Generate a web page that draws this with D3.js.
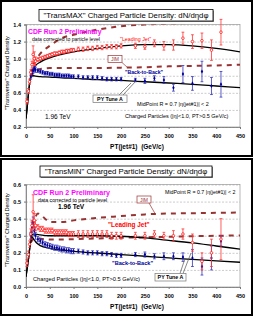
<!DOCTYPE html>
<html>
<head>
<meta charset="utf-8">
<script src="https://cdn.jsdelivr.net/npm/d3@7"></script>
<style>
  body { margin: 0; background: #fff; }
  svg { display: block; font-family: Arial, "Liberation Sans", sans-serif; }
</style>
</head>
<body>
<script>
// pT(jet#1) bins (GeV/c)
const ptBins = [2, 5, 7.5, 10, 12.5, 15, 17.5, 20, 25, 30, 35, 40, 45, 50, 55, 60, 65, 70, 75, 80, 85, 90, 95, 100,
  110, 120, 130, 140, 150, 160, 170, 180, 190, 200, 230, 250, 270, 290, 310, 330, 350, 370, 390, 410];

// "TransMAX" data
const maxLeadY = [0.50, 0.62, 0.73, 0.84, 0.93, 1.05, 1.00, 0.97, 0.99, 1.00, 1.01, 1.02, 1.03, 1.04, 1.05, 1.06, 1.06, 1.07, 1.08, 1.08, 1.09, 1.09, 1.10, 1.10,
  1.11, 1.11, 1.12, 1.12, 1.13, 1.13, 1.14, 1.14, 1.14, 1.15, 1.15, 1.14, 1.18, 1.15, 1.16, 1.24, 1.20, 1.21, 1.10, 1.31];
const maxLeadErr = [0.03, 0.03, 0.03, 0.03, 0.04, 0.10, 0.08, 0.05, 0.02, 0.02, 0.02, 0.02, 0.02, 0.02, 0.02, 0.02, 0.02, 0.02, 0.02, 0.02, 0.02, 0.02, 0.02, 0.02,
  0.025, 0.025, 0.025, 0.025, 0.025, 0.025, 0.025, 0.025, 0.025, 0.025, 0.03, 0.03, 0.04, 0.05, 0.06, 0.07, 0.08, 0.09, 0.12, 0.15];
const maxBackY = [null, null, null, 0.80, 0.83, 0.86, 0.88, 0.87, 0.86, 0.85, 0.84, 0.83, 0.83, 0.82, 0.82, 0.81, 0.81, 0.81, 0.80, 0.80, 0.80, 0.80, 0.79, 0.79,
  0.79, 0.78, 0.78, 0.78, 0.78, 0.77, 0.76, 0.76, 0.76, 0.76, 0.75, 0.74, 0.77, 0.75, 0.66, 0.82, 0.71, 0.85, 0.68, 0.70];
const maxBackErr = [null, null, null, 0.04, 0.04, 0.03, 0.03, 0.03, 0.02, 0.02, 0.02, 0.02, 0.02, 0.02, 0.02, 0.02, 0.02, 0.02, 0.02, 0.02, 0.02, 0.02, 0.02, 0.02,
  0.02, 0.02, 0.02, 0.02, 0.02, 0.02, 0.02, 0.02, 0.02, 0.02, 0.02, 0.03, 0.03, 0.04, 0.04, 0.10, 0.08, 0.12, 0.10, 0.15];

// "TransMIN" data
const minLeadY = [0.14, 0.19, 0.25, 0.31, 0.36, 0.44, 0.39, 0.36, 0.35, 0.34, 0.34, 0.33, 0.33, 0.33, 0.33, 0.32, 0.32, 0.32, 0.32, 0.32, 0.32, 0.31, 0.31, 0.31,
  0.31, 0.31, 0.31, 0.31, 0.31, 0.31, 0.31, 0.30, 0.30, 0.30, 0.30, 0.30, 0.31, 0.30, 0.30, 0.31, 0.26, 0.15, 0.20, 0.28];
const minLeadErr = [0.02, 0.02, 0.02, 0.03, 0.03, 0.10, 0.04, 0.03, 0.015, 0.015, 0.015, 0.015, 0.015, 0.015, 0.015, 0.015, 0.015, 0.015, 0.015, 0.015, 0.015, 0.015, 0.015, 0.015,
  0.02, 0.02, 0.02, 0.02, 0.02, 0.02, 0.02, 0.02, 0.02, 0.02, 0.02, 0.02, 0.02, 0.02, 0.03, 0.03, 0.05, 0.05, 0.08, 0.12];
const minBackY = [null, null, null, 0.30, 0.35, 0.38, 0.33, 0.30, 0.28, 0.27, 0.26, 0.25, 0.245, 0.24, 0.235, 0.23, 0.23, 0.225, 0.22, 0.22, 0.215, 0.215, 0.21, 0.21,
  0.21, 0.205, 0.20, 0.20, 0.20, 0.195, 0.195, 0.19, 0.185, 0.185, 0.19, 0.19, 0.18, 0.18, 0.18, 0.175, 0.17, 0.12, 0.17, 0.27];
const minBackErr = [null, null, null, 0.02, 0.03, 0.03, 0.03, 0.02, 0.015, 0.015, 0.015, 0.015, 0.015, 0.015, 0.015, 0.015, 0.015, 0.015, 0.015, 0.015, 0.015, 0.015, 0.015, 0.015,
  0.012, 0.012, 0.012, 0.012, 0.012, 0.012, 0.012, 0.012, 0.012, 0.012, 0.012, 0.015, 0.015, 0.02, 0.02, 0.025, 0.05, 0.05, 0.07, 0.03];

// PYTHIA Tune A curves
const pyPt = [0, 2, 5, 8, 10, 12, 15, 20, 30, 50, 75, 100, 150, 200, 250, 300, 350, 400, 450];
const maxPyLead = [0.30, 0.40, 0.58, 0.73, 0.80, 0.85, 0.88, 0.92, 0.96, 1.01, 1.05, 1.08, 1.12, 1.15, 1.165, 1.165, 1.15, 1.12, 1.08];
const maxPyBack = [0.30, 0.40, 0.58, 0.73, 0.78, 0.80, 0.80, 0.795, 0.79, 0.785, 0.775, 0.77, 0.755, 0.745, 0.73, 0.715, 0.70, 0.68, 0.66];
const minPyLead = [0.06, 0.10, 0.16, 0.23, 0.27, 0.30, 0.31, 0.31, 0.305, 0.30, 0.30, 0.30, 0.30, 0.297, 0.287, 0.273, 0.258, 0.24, 0.222];
const minPyBack = [0.06, 0.10, 0.16, 0.23, 0.27, 0.295, 0.285, 0.265, 0.242, 0.226, 0.216, 0.209, 0.199, 0.19, 0.18, 0.17, 0.162, 0.153, 0.145];

// JIMMY curves
const jimPt = [10, 15, 20, 25, 30, 40, 50, 75, 100, 150, 200, 250, 300, 350, 400, 450];
const maxJimLead = [0.82, 0.92, 0.98, 1.02, 1.06, 1.11, 1.15, 1.24, 1.28, 1.34, 1.38, 1.40, 1.41, 1.42, 1.43, 1.44];
const maxJimBack = [0.78, 0.83, 0.86, 0.87, 0.88, 0.885, 0.89, 0.89, 0.89, 0.89, 0.895, 0.90, 0.91, 0.915, 0.92, 0.93];
const minJimLead = [0.30, 0.37, 0.41, 0.43, 0.425, 0.40, 0.38, 0.38, 0.39, 0.405, 0.415, 0.425, 0.43, 0.432, 0.434, 0.436];
const minJimBack = [0.26, 0.28, 0.285, 0.285, 0.283, 0.28, 0.278, 0.278, 0.28, 0.284, 0.288, 0.291, 0.294, 0.297, 0.30, 0.302];

// ticks
const xTicks = [0, 50, 100, 150, 200, 250, 300, 350, 400, 450];
const maxYTicks = [0.2, 0.4, 0.6, 0.8, 1.0, 1.2, 1.4];
const minYTicks = [0.0, 0.1, 0.2, 0.3, 0.4, 0.5, 0.6];

const W = 253, H = 316;
const RED = "#FF0000", BLUE = "#000099", JIM = "#993333";

const svg = d3.select("body").append("svg").attr("width", W).attr("height", H);

let clipId = 0;

function drawPanel(p) {
  const g = svg.append("g").attr("transform", `translate(0,${p.top})`);

  g.append("rect")
    .attr("x", 1).attr("y", 1)
    .attr("width", W - 2).attr("height", p.height - 2)
    .attr("fill", "#fff").attr("stroke", "#000").attr("stroke-width", 2);

  const x = d3.scaleLinear().domain([0, 450]).range([26, 240]);
  const y = d3.scaleLinear().domain(p.yDomain).range(p.yRange);
  const [pl, pr] = x.range();
  const [pb, pt] = y.range();

  // horizontal grid
  g.append("g")
    .attr("transform", `translate(${pl},0)`)
    .call(d3.axisLeft(y).tickValues(p.yTicks).tickSize(-(pr - pl)).tickFormat(""))
    .call(a => a.select(".domain").remove())
    .selectAll("line")
    .attr("stroke", "#aaa").attr("stroke-width", 0.6).attr("stroke-dasharray", "2,1.5");

  g.append("rect")
    .attr("x", pl).attr("y", pt).attr("width", pr - pl).attr("height", pb - pt)
    .attr("fill", "none").attr("stroke", "#999").attr("stroke-width", 0.7);

  // axes
  const yAxis = g.append("g")
    .attr("transform", `translate(${pl},0)`)
    .call(d3.axisLeft(y).tickValues(p.yTicks).tickSize(2).tickPadding(3).tickFormat(d3.format(".1f")));
  const xAxis = g.append("g")
    .attr("transform", `translate(0,${pb})`)
    .call(d3.axisBottom(x).tickValues(xTicks).tickSize(2).tickPadding(5).tickFormat(d3.format("d")));
  [yAxis, xAxis].forEach(a => {
    a.select(".domain").attr("stroke", "#777").attr("stroke-width", 0.8);
    a.selectAll(".tick line").attr("stroke", "#777");
    a.selectAll(".tick text").attr("fill", "#000").attr("font-size", 5.5).attr("font-weight", "bold")
      .attr("font-family", "Arial, 'Liberation Sans', sans-serif");
  });

  g.append("text")
    .attr("transform", `translate(7,${p.yTitleY}) rotate(-90)`)
    .attr("text-anchor", "middle").attr("dominant-baseline", "central")
    .attr("font-size", 5.5).text("\"Transverse\" Charged Density");

  g.append("text")
    .attr("x", 137).attr("y", p.xTitleY)
    .attr("text-anchor", "middle").attr("font-size", 6.5).attr("font-weight", "bold")
    .attr("xml:space", "preserve")
    .text("PT(jet#1)  (GeV/c)");

  // clip
  const cid = "clip" + (clipId++);
  g.append("clipPath").attr("id", cid)
    .append("rect").attr("x", pl).attr("y", pt).attr("width", pr - pl).attr("height", pb - pt);
  const plot = g.append("g").attr("clip-path", `url(#${cid})`);

  const line = d3.line().x(d => x(d[0])).y(d => y(d[1])).curve(d3.curveMonotoneX);

  // JIM dashed
  [p.jimLead, p.jimBack].forEach(vals => {
    plot.append("path")
      .datum(jimPt.map((v, i) => [v, vals[i]]))
      .attr("d", line)
      .attr("fill", "none").attr("stroke", JIM).attr("stroke-width", 2)
      .attr("stroke-dasharray", "5,5");
  });

  // PY Tune A solid
  [p.pyLead, p.pyBack].forEach(vals => {
    plot.append("path")
      .datum(pyPt.map((v, i) => [v, vals[i]]))
      .attr("d", line)
      .attr("fill", "none").attr("stroke", "#000").attr("stroke-width", 1.3);
  });

  // data with error bars
  function series(vals, errs, color, barColor, marker) {
    const pts = ptBins.map((v, i) => ({ pt: v, y: vals[i], e: errs[i] })).filter(d => d.y != null);
    const s = g.append("g");
    s.selectAll("line.bar").data(pts).join("line")
      .attr("x1", d => x(d.pt)).attr("x2", d => x(d.pt))
      .attr("y1", d => y(d.y - d.e)).attr("y2", d => y(d.y + d.e))
      .attr("stroke", barColor).attr("stroke-width", 0.8);
    ["lo", "hi"].forEach(k => {
      s.selectAll("line.cap" + k).data(pts).join("line")
        .attr("x1", d => x(d.pt) - 1.4).attr("x2", d => x(d.pt) + 1.4)
        .attr("y1", d => y(k === "lo" ? d.y - d.e : d.y + d.e))
        .attr("y2", d => y(k === "lo" ? d.y - d.e : d.y + d.e))
        .attr("stroke", barColor).attr("stroke-width", 0.8);
    });
    if (marker === "circle") {
      s.selectAll("circle").data(pts).join("circle")
        .attr("cx", d => x(d.pt)).attr("cy", d => y(d.y)).attr("r", 1.3)
        .attr("fill", "#fff").attr("stroke", color).attr("stroke-width", 0.7);
    } else {
      s.selectAll("path").data(pts).join("path")
        .attr("transform", d => `translate(${x(d.pt)},${y(d.y)})`)
        .attr("d", d3.symbol(d3.symbolDiamond, 5))
        .attr("fill", color);
    }
  }
  series(p.backY, p.backErr, BLUE, "#3333BB", "diamond");
  series(p.leadY, p.leadErr, RED, "#FF3333", "circle");

  // title box
  const tb = p.titleBox;
  g.append("rect").attr("x", tb[0] + 1).attr("y", tb[1] + 1).attr("width", tb[2]).attr("height", tb[3]).attr("fill", "#888");
  g.append("rect").attr("x", tb[0]).attr("y", tb[1]).attr("width", tb[2]).attr("height", tb[3])
    .attr("fill", "#fff").attr("stroke", "#000").attr("stroke-width", 0.8);
  g.append("text").attr("x", tb[0] + tb[2] / 2).attr("y", tb[1] + tb[3] / 2)
    .attr("text-anchor", "middle").attr("dominant-baseline", "central")
    .attr("font-size", 7.8).text(p.title);

  // pointer lines
  p.pointers.forEach(q => {
    g.append("line").attr("x1", q[0]).attr("y1", q[1]).attr("x2", q[2]).attr("y2", q[3])
      .attr("stroke", q[4]).attr("stroke-width", 0.7);
  });

  // labelled boxes
  p.boxes.forEach(b => {
    g.append("rect").attr("x", b.x).attr("y", b.y).attr("width", b.w).attr("height", b.h)
      .attr("fill", "#fff").attr("stroke", b.color).attr("stroke-width", 0.7);
    g.append("text").attr("x", b.x + b.w / 2).attr("y", b.y + b.h / 2)
      .attr("text-anchor", "middle").attr("dominant-baseline", "central")
      .attr("font-size", b.size).attr("font-weight", b.weight || "normal")
      .attr("fill", b.color === "#777" ? "#000" : b.color).text(b.text);
  });

  // annotations
  p.notes.forEach(n => {
    g.append("text").attr("x", n.x).attr("y", n.y)
      .attr("font-size", n.size).attr("font-weight", n.weight || "normal")
      .attr("fill", n.color || "#000").text(n.text);
  });
}

drawPanel({
  top: 0, height: 157,
  yDomain: [0.2, 1.4], yRange: [127, 24.5], yTicks: maxYTicks,
  yTitleY: 73, xTitleY: 148.5,
  title: "\"TransMAX\" Charged Particle Density: dN/dηdφ",
  titleBox: [39, 9.5, 174, 11.5],
  leadY: maxLeadY, leadErr: maxLeadErr, backY: maxBackY, backErr: maxBackErr,
  pyLead: maxPyLead, pyBack: maxPyBack, jimLead: maxJimLead, jimBack: maxJimBack,
  pointers: [[122, 62.5, 128, 68, JIM], [119, 95, 131, 83, "#555"], [123, 95, 136, 81, "#555"]],
  boxes: [
    { x: 108, y: 55.5, w: 14, h: 7, text: "JIM", color: JIM, size: 5 },
    { x: 93, y: 95, w: 34, h: 7.5, text: "PY Tune A", color: "#777", size: 5.3, weight: "bold" }
  ],
  notes: [
    { x: 28, y: 34, text: "CDF Run 2 Preliminary", size: 6.8, weight: "bold", color: "#FF00FF" },
    { x: 32, y: 41, text: "data corrected to particle level", size: 5.1 },
    { x: 120, y: 41.3, text: "\"Leading Jet\"", size: 5.3, color: RED },
    { x: 125, y: 73.5, text: "\"Back-to-Back\"", size: 5.2, weight: "bold", color: BLUE },
    { x: 137, y: 106, text: "MidPoint R = 0.7 |η(jet#1)| < 2", size: 5.4 },
    { x: 45, y: 119, text: "1.96 TeV", size: 6.5 },
    { x: 125, y: 118, text: "Charged Particles (|η|<1.0, PT>0.5 GeV/c)", size: 5.5 }
  ]
});

drawPanel({
  top: 158, height: 158,
  yDomain: [0, 0.6], yRange: [129, 26.5], yTicks: minYTicks,
  yTitleY: 72, xTitleY: 150.5,
  title: "\"TransMIN\" Charged Particle Density: dN/dηdφ",
  titleBox: [40, 8, 172, 11],
  leadY: minLeadY, leadErr: minLeadErr, backY: minBackY, backErr: minBackErr,
  pyLead: minPyLead, pyBack: minPyBack, jimLead: minJimLead, jimBack: minJimBack,
  pointers: [[149, 45, 155, 55.5, JIM], [180, 115.5, 185, 100.5, "#555"], [183, 115.5, 191, 95, "#555"]],
  boxes: [
    { x: 137, y: 38, w: 14, h: 7, text: "JIM", color: JIM, size: 5 },
    { x: 155, y: 115.5, w: 31, h: 7.5, text: "PY Tune A", color: "#777", size: 5.3, weight: "bold" }
  ],
  notes: [
    { x: 33, y: 36.7, text: "CDF Run 2 Preliminary", size: 7.1, weight: "bold", color: "#FF00FF" },
    { x: 38, y: 43.8, text: "data corrected to particle level", size: 5.2 },
    { x: 58, y: 51, text: "1.96 TeV", size: 6.6, weight: "bold" },
    { x: 165, y: 36.2, text: "MidPoint R = 0.7 |η(jet#1)| < 2", size: 5.3 },
    { x: 108, y: 69, text: "\"Leading Jet\"", size: 6.4, weight: "bold", color: RED },
    { x: 112, y: 107, text: "\"Back-to-Back\"", size: 5.6, weight: "bold", color: BLUE },
    { x: 33, y: 123, text: "Charged Particles (|η|<1.0, PT>0.5 GeV/c)", size: 5.7 }
  ]
});
</script>
</body>
</html>
